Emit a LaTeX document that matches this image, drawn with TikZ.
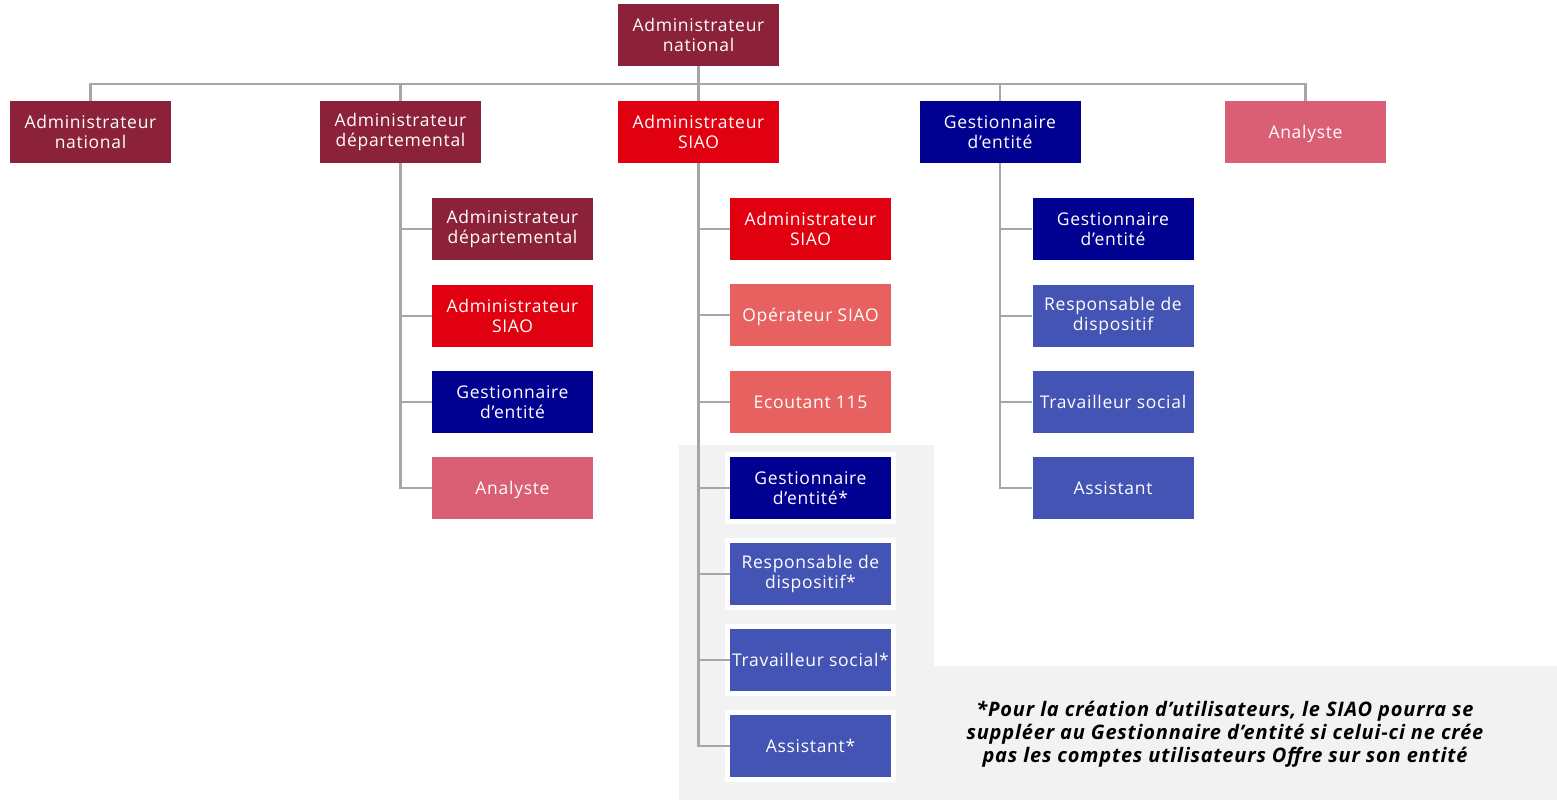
\documentclass[tikz,border=0pt]{standalone}
\usepackage{fontspec}
\setmainfont{Open Sans}
\newfontfamily\boxfont{Open Sans}[LetterSpace=4]
\newfontfamily\notefont{Open Sans}[LetterSpace=4]
\newcommand\lowtext[1]{\raisebox{-2pt}[\height][\depth]{#1}}
\definecolor{bordeaux}{HTML}{8C2239}
\definecolor{rouge}{HTML}{E1000F}
\definecolor{marine}{HTML}{000091}
\definecolor{rose}{HTML}{DA5E74}
\definecolor{saumon}{HTML}{E86161}
\definecolor{bleu}{HTML}{4354B4}
\definecolor{trait}{HTML}{A6A6A6}
\definecolor{fond}{HTML}{F2F2F2}
\tikzset{
  box/.style={minimum width=161pt, minimum height=62pt, inner sep=0pt, align=center,
    text=white, font=\boxfont\fontsize{17.5}{20}\selectfont},
  starred/.style={preaction={draw=white, line width=10pt}},
  conn/.style={draw=trait, line width=2.6pt},
}
\begin{document}
\begin{tikzpicture}[x=1pt,y=-1pt]
\useasboundingbox (0,0) rectangle (1557,800);
\fill[fond] (679,445) rectangle (934,800);
\fill[fond] (934,666) rectangle (1557,800);

% top
\node[box, fill=bordeaux] (top) at (698.5,35) {Administrateur\\national};
% level 1
\node[box, fill=bordeaux] (an) at (90.5,132) {Administrateur\\national};
\node[box, fill=bordeaux] (ad) at (400.5,132) {Administrateur\\départemental};
\node[box, fill=rouge] (as) at (698.5,132) {Administrateur\\SIAO};
\node[box, fill=marine] (ge) at (1000,132) {Gestionnaire\\d’entité};
\node[box, fill=rose] (an2) at (1305.5,132) {\lowtext{Analyste}};

% children of départemental
\node[box, fill=bordeaux] (d1) at (512.5,229) {Administrateur\\départemental};
\node[box, fill=rouge] (d2) at (512.5,316) {Administrateur\\SIAO};
\node[box, fill=marine] (d3) at (512.5,402) {Gestionnaire\\d’entité};
\node[box, fill=rose] (d4) at (512.5,488) {\lowtext{Analyste}};

% children of SIAO
\node[box, fill=rouge] (s1) at (810.5,229) {Administrateur\\SIAO};
\node[box, fill=saumon] (s2) at (810.5,315) {\lowtext{Opérateur SIAO}};
\node[box, fill=saumon] (s3) at (810.5,402) {Ecoutant 115};
\node[box, fill=marine, starred] (s4) at (810.5,488) {Gestionnaire\\d’entité*};
\node[box, fill=bleu, starred] (s5) at (810.5,574) {Responsable de\\dispositif*};
\node[box, fill=bleu, starred] (s6) at (810.5,660) {Travailleur social*};
\node[box, fill=bleu, starred] (s7) at (810.5,746) {Assistant*};

% children of Gestionnaire
\node[box, fill=marine] (g1) at (1113,229) {Gestionnaire\\d’entité};
\node[box, fill=bleu] (g2) at (1113,316) {Responsable de\\dispositif};
\node[box, fill=bleu] (g3) at (1113,402) {Travailleur social};
\node[box, fill=bleu] (g4) at (1113,488) {Assistant};

% note
\node[align=center, font=\notefont\fontsize{20}{23}\selectfont\bfseries\itshape] (note) at (1225,734)
  {*Pour la création d’utilisateurs, le SIAO pourra se\\suppléer au Gestionnaire d’entité si celui-ci ne crée\\pas les comptes utilisateurs Offre sur son entité};

% top connectors
\coordinate (bus) at (698.5,84);
\draw[conn] (top.south) -- (bus);
\draw[conn] (an.north) -- (an.north |- bus) -- (an2.north |- bus) -- (an2.north);
\draw[conn] (ad.north) -- (ad.north |- bus);
\draw[conn] (as.north) -- (as.north |- bus);
\draw[conn] (ge.north) -- (ge.north |- bus);

% départemental branch
\draw[conn] (ad.south) -- (ad.south |- d4.west) -- (d4.west);
\foreach \c in {d1,d2,d3} \draw[conn] (ad.south |- \c.west) -- (\c.west);
% SIAO branch
\draw[conn] (as.south) -- (as.south |- s7.west) -- (s7.west);
\foreach \c in {s1,s2,s3,s4,s5,s6} \draw[conn] (as.south |- \c.west) -- (\c.west);
% Gestionnaire branch
\draw[conn] (ge.south) -- (ge.south |- g4.west) -- (g4.west);
\foreach \c in {g1,g2,g3} \draw[conn] (ge.south |- \c.west) -- (\c.west);
\end{tikzpicture}
\end{document}
